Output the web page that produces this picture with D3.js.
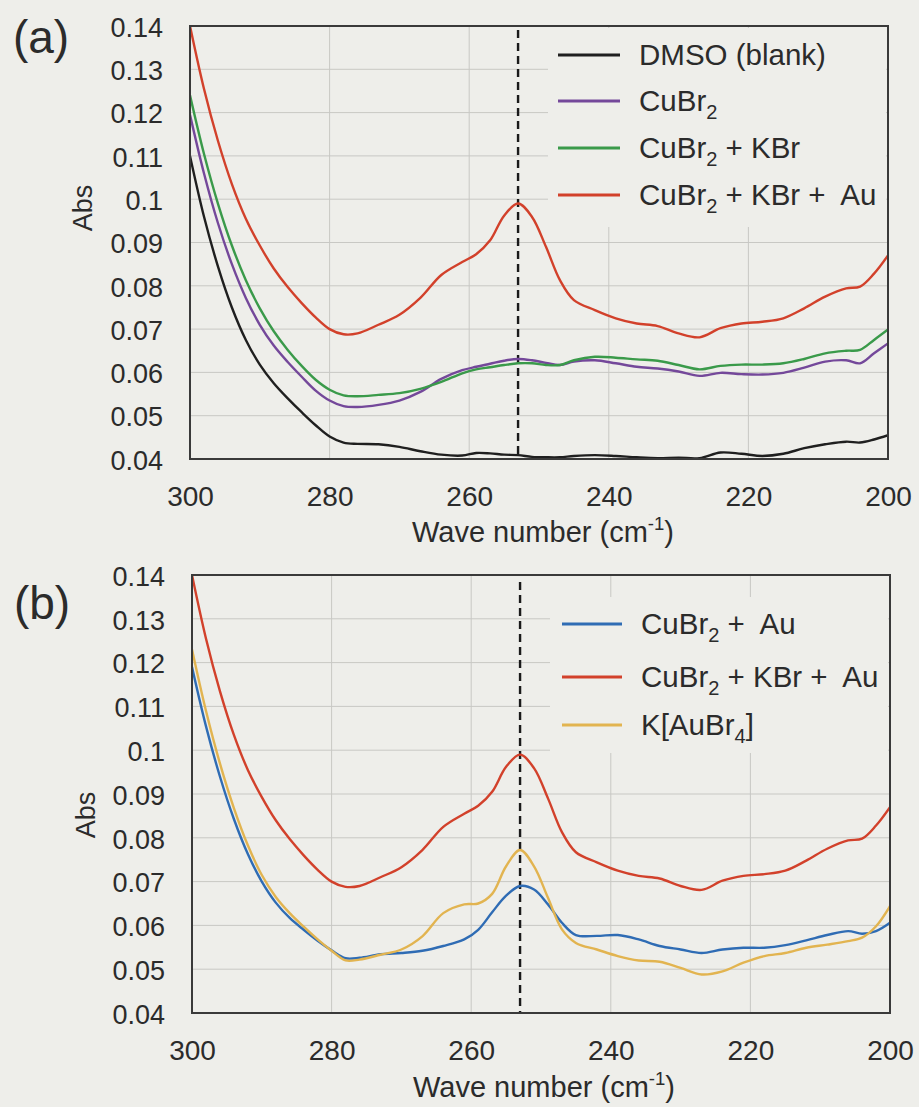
<!DOCTYPE html>
<html>
<head>
<meta charset="utf-8">
<script src="https://cdn.jsdelivr.net/npm/d3@7"></script>
<style>
  html, body { margin: 0; padding: 0; background: #eeeeea; }
  svg { display: block; }
  text { font-family: "Liberation Sans", Arial, sans-serif; fill: #2b2b2b; white-space: pre; }
</style>
</head>
<body>
<svg id="fig" width="919" height="1107"></svg>
<script>
// Far-IR absorbance spectra, 300–200 cm-1
const waves = [300, 298, 296, 294, 292, 290, 288, 286, 284, 282, 280, 278, 276, 273, 270, 267, 264, 261, 259, 257, 255, 253, 251, 249, 247, 245, 242, 239, 236, 233, 230, 227, 224, 221, 218, 215, 212, 209, 206, 204, 202, 200];

const dmsoBlank = [0.110, 0.0960, 0.0845, 0.0750, 0.0675, 0.0618, 0.0575, 0.0540, 0.0508, 0.0478, 0.0452, 0.0438, 0.0435, 0.0434, 0.0428, 0.0418, 0.041, 0.0408, 0.0414, 0.0413, 0.041, 0.0409, 0.0405, 0.0404, 0.0404, 0.0407, 0.0409, 0.0407, 0.0404, 0.0402, 0.0403, 0.0402, 0.0415, 0.0412, 0.0407, 0.0412, 0.0425, 0.0434, 0.044, 0.0438, 0.0445, 0.0455];
const cuBr2 = [0.1195, 0.1060, 0.0945, 0.0850, 0.0772, 0.0710, 0.0662, 0.0624, 0.0590, 0.0558, 0.0535, 0.0522, 0.052, 0.0525, 0.0535, 0.0555, 0.0585, 0.0605, 0.0613, 0.062, 0.0627, 0.0631, 0.0628, 0.0622, 0.0617, 0.0625, 0.0628, 0.0621, 0.0613, 0.0609, 0.0602, 0.0592, 0.0599, 0.0596, 0.0595, 0.0599, 0.0611, 0.0625, 0.0628, 0.0621, 0.0644, 0.0667];
const cuBr2KBr = [0.124, 0.1105, 0.0990, 0.0893, 0.0813, 0.0748, 0.0695, 0.0652, 0.0615, 0.0583, 0.0560, 0.0547, 0.0545, 0.0548, 0.0552, 0.0562, 0.0578, 0.0598, 0.0607, 0.0612, 0.0617, 0.0621, 0.0621, 0.0617, 0.0617, 0.0628, 0.0636, 0.0634, 0.063, 0.0627, 0.0617, 0.0607, 0.0615, 0.0618, 0.0618, 0.0621, 0.0631, 0.0644, 0.065, 0.0652, 0.0675, 0.0699];
const cuBr2KBrAu = [0.140, 0.1255, 0.1135, 0.1035, 0.0955, 0.0893, 0.0840, 0.0797, 0.0760, 0.0727, 0.0700, 0.0688, 0.069, 0.071, 0.0733, 0.0772, 0.0825, 0.0855, 0.0873, 0.0905, 0.0962, 0.099, 0.0959, 0.089, 0.0813, 0.0767, 0.0744, 0.0725, 0.0713, 0.0707, 0.069, 0.0681, 0.0702, 0.0713, 0.0717, 0.0725, 0.0748, 0.0775, 0.0794, 0.0798, 0.0828, 0.087];
const cuBr2Au = [0.119, 0.1055, 0.0940, 0.0843, 0.0763, 0.0700, 0.0652, 0.0617, 0.0590, 0.0565, 0.0543, 0.0525, 0.0526, 0.0534, 0.0537, 0.0542, 0.0553, 0.0568, 0.059, 0.063, 0.0668, 0.069, 0.0682, 0.0648, 0.0606, 0.0578, 0.0576, 0.0578, 0.0568, 0.0553, 0.0545, 0.0537, 0.0545, 0.0549, 0.0549, 0.0555, 0.0566, 0.0578, 0.0587, 0.0581, 0.0587, 0.0606];
const kAuBr4 = [0.123, 0.1090, 0.0970, 0.0868, 0.0783, 0.0715, 0.0665, 0.0628, 0.0597, 0.0568, 0.0542, 0.0520, 0.0522, 0.0533, 0.0545, 0.0575, 0.0628, 0.0648, 0.065, 0.0672, 0.0735, 0.0772, 0.0735, 0.0663, 0.0591, 0.056, 0.0545, 0.053, 0.052, 0.0517, 0.0503, 0.0488, 0.0495, 0.0515, 0.053, 0.0537, 0.0549, 0.0556, 0.0564, 0.0572, 0.0598, 0.0644];

const yTicks = [0.04, 0.05, 0.06, 0.07, 0.08, 0.09, 0.10, 0.11, 0.12, 0.13, 0.14];
const yTickLabels = ["0.04", "0.05", "0.06", "0.07", "0.08", "0.09", "0.1", "0.11", "0.12", "0.13", "0.14"];
const xTicks = [300, 280, 260, 240, 220, 200];
const markerWave = 253;

const seriesA = [
  { name: "DMSO (blank)", values: dmsoBlank, color: "#1f1f1f" },
  { name: "CuBr_2", values: cuBr2, color: "#74489a" },
  { name: "CuBr_2 + KBr", values: cuBr2KBr, color: "#3a9a4a" },
  { name: "CuBr_2 + KBr +  Au", values: cuBr2KBrAu, color: "#d2412b" }
];
const seriesB = [
  { name: "CuBr_2 +  Au", values: cuBr2Au, color: "#2f6cb4" },
  { name: "CuBr_2 + KBr +  Au", values: cuBr2KBrAu, color: "#d2412b" },
  { name: "K[AuBr_4]", values: kAuBr4, color: "#e2b450" }
];

const svg = d3.select("#fig");
svg.append("rect").attr("width", 919).attr("height", 1107).attr("fill", "#eeeeea");

// text with _n subscripts and ^n superscripts; the baseline shift is undone on the next run
function richText(sel, str, size) {
  const parts = str.split(/(_[0-9]+|\^[-0-9]+)/).filter(s => s.length);
  let pending = 0;
  parts.forEach(p => {
    if (p[0] === "_") {
      const s = size * 0.28;
      sel.append("tspan").attr("font-size", size * 0.68).attr("dy", pending + s).text(p.slice(1));
      pending = -s;
    } else if (p[0] === "^") {
      const s = -size * 0.42;
      sel.append("tspan").attr("font-size", size * 0.64).attr("dy", pending + s).text(p.slice(1));
      pending = -s;
    } else {
      const t = sel.append("tspan").text(p);
      if (pending) t.attr("dy", pending);
      pending = 0;
    }
  });
}

function panel(cfg) {
  const { left, right, top, bottom } = cfg;
  const x = d3.scaleLinear().domain([300, 200]).range([left, right]);
  const y = d3.scaleLinear().domain([0.04, 0.14]).range([bottom, top]);
  const g = svg.append("g");

  // grid
  g.append("g").selectAll("line").data(yTicks.filter(v => v > 0.045 && v < 0.135)).join("line")
    .attr("x1", left).attr("x2", right).attr("y1", d => y(d)).attr("y2", d => y(d))
    .attr("stroke", "#c8c8c4").attr("stroke-width", 1);
  g.append("g").selectAll("line").data(xTicks.filter(v => v < 300 && v > 200)).join("line")
    .attr("y1", top).attr("y2", bottom).attr("x1", d => x(d)).attr("x2", d => x(d))
    .attr("stroke", "#c8c8c4").attr("stroke-width", 1);

  // legend backdrop hides the grid behind it
  g.append("rect").attr("x", cfg.legendBox[0]).attr("y", cfg.legendBox[1])
    .attr("width", cfg.legendBox[2]).attr("height", cfg.legendBox[3]).attr("fill", "#eeeeea");

  // dashed marker
  g.append("line").attr("x1", x(markerWave)).attr("x2", x(markerWave))
    .attr("y1", cfg.dashTop).attr("y2", bottom)
    .attr("stroke", "#1a1a1a").attr("stroke-width", 2.4).attr("stroke-dasharray", "8,5");

  const clipId = "clip" + cfg.id;
  svg.append("clipPath").attr("id", clipId).append("rect")
    .attr("x", left).attr("y", top - 2).attr("width", right - left).attr("height", bottom - top + 2);

  const line = d3.line().x((d, i) => x(waves[i])).y(d => y(d)).curve(d3.curveCatmullRom.alpha(0.5));
  g.append("g").attr("clip-path", `url(#${clipId})`).selectAll("path").data(cfg.series).join("path")
    .attr("d", d => line(d.values)).attr("fill", "none")
    .attr("stroke", d => d.color).attr("stroke-width", 2.4).attr("stroke-linejoin", "round");

  // frame
  g.append("rect").attr("x", left).attr("y", top).attr("width", right - left).attr("height", bottom - top)
    .attr("fill", "none").attr("stroke", "#3a3a3a").attr("stroke-width", 2);

  // axes
  const yAxis = d3.axisLeft(y).tickValues(yTicks).tickSize(0).tickPadding(27)
    .tickFormat((d, i) => yTickLabels[i]);
  const ya = g.append("g").attr("transform", `translate(${left},0)`).call(yAxis);
  ya.select(".domain").remove();
  ya.selectAll("text").attr("font-size", 27).attr("font-family", "Liberation Sans, Arial, sans-serif")
    .attr("fill", "#2b2b2b").attr("dy", "0.38em");

  const xAxis = d3.axisBottom(x).tickValues(xTicks).tickSize(0).tickPadding(27);
  const xa = g.append("g").attr("transform", `translate(0,${bottom})`).call(xAxis);
  xa.select(".domain").remove();
  xa.selectAll("text").attr("font-size", 28).attr("font-family", "Liberation Sans, Arial, sans-serif")
    .attr("fill", "#2b2b2b");

  // titles
  const xt = g.append("text").attr("x", cfg.xTitle[0]).attr("y", cfg.xTitle[1])
    .attr("text-anchor", "middle").attr("font-size", 29);
  richText(xt, "Wave number (cm^-1)", 29);
  g.append("text").attr("transform", `translate(${cfg.yTitle[0]},${cfg.yTitle[1]}) rotate(-90)`)
    .attr("text-anchor", "middle").attr("dy", "0.35em").attr("font-size", 27).text("Abs");
  g.append("text").attr("x", cfg.tag[0]).attr("y", cfg.tag[1]).attr("text-anchor", "middle")
    .attr("font-size", 46).text(cfg.tagText);

  // legend
  const lg = g.append("g").selectAll("g").data(cfg.series).join("g")
    .attr("transform", (d, i) => `translate(0,${cfg.legendRows[i]})`);
  lg.append("line").attr("x1", cfg.legendX[0]).attr("x2", cfg.legendX[1])
    .attr("stroke", d => d.color).attr("stroke-width", 3.2);
  lg.each(function (d) {
    const t = d3.select(this).append("text").attr("x", cfg.legendX[2]).attr("y", 10).attr("font-size", 29.5);
    richText(t, d.name, 29.5);
  });
}

panel({
  id: "a", left: 190, right: 888, top: 26, bottom: 459, series: seriesA,
  legendBox: [548, 28, 338, 199], dashTop: 30,
  legendRows: [55, 101, 148, 195], legendX: [558, 620, 639],
  xTitle: [543, 542], yTitle: [83, 208], tag: [41, 53], tagText: "(a)"
});
panel({
  id: "b", left: 192, right: 890, top: 575, bottom: 1013, series: seriesB,
  legendBox: [550, 597, 338, 156], dashTop: 582,
  legendRows: [624, 677, 725], legendX: [562, 622, 641],
  xTitle: [544, 1097], yTitle: [86, 815], tag: [42, 619], tagText: "(b)"
});
</script>
</body>
</html>
